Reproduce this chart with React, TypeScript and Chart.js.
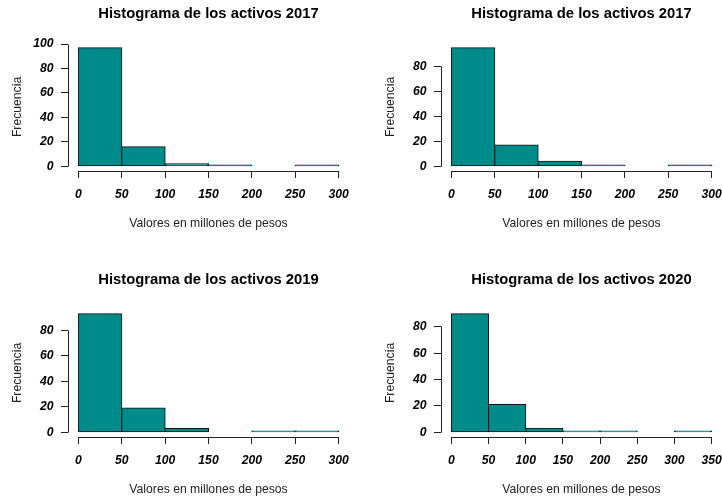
import React, { useEffect, useRef } from 'react';
import { Chart, registerables } from 'chart.js';

Chart.register(...registerables);

// ---- data ----
const titles = [
  'Histograma de los activos 2017',
  'Histograma de los activos 2017',
  'Histograma de los activos 2019',
  'Histograma de los activos 2020',
];
const breaksA = [0, 50, 100, 150, 200, 250, 300];
const breaksB = [0, 50, 100, 150, 200, 250, 300, 350];
const counts2017 = [97, 16, 2, 1, 0, 1];
const counts2018 = [95, 17, 4, 1, 0, 1];
const counts2019 = [93, 19, 3, 0, 1, 1];
const counts2020 = [90, 21, 3, 1, 1, 0, 1];
const yTicks100 = [0, 20, 40, 60, 80, 100];
const yTicks80 = [0, 20, 40, 60, 80];
const xLabel = 'Valores en millones de pesos';
const yLabel = 'Frecuencia';

// ---- style / layout ----
const FONT = "'Liberation Sans', Arial, Helvetica, sans-serif";
const FILL = '#008B8B';
const W = 58; // y axis box width
const H = 60; // x axis box height
const CW = 397;
const CH = 231;

const axisLines = {
  id: 'axisLines',
  afterDraw(chart: any) {
    const { ctx, chartArea } = chart;
    const x = chart.scales.x;
    const y = chart.scales.y;
    const al = (p: number) => Math.round(p - 0.5) + 0.5;
    const xt = x.ticks;
    const yt = y.ticks;
    ctx.save();
    ctx.strokeStyle = '#222';
    ctx.lineWidth = 1;
    ctx.beginPath();
    const yb = al(chartArea.bottom);
    ctx.moveTo(al(x.getPixelForValue(xt[0].value)), yb);
    ctx.lineTo(al(x.getPixelForValue(xt[xt.length - 1].value)), yb);
    const xl = al(chartArea.left);
    ctx.moveTo(xl, al(y.getPixelForValue(yt[0].value)));
    ctx.lineTo(xl, al(y.getPixelForValue(yt[yt.length - 1].value)));
    ctx.stroke();
    ctx.restore();
  },
};

type PanelProps = {
  title: string;
  breaks: number[];
  counts: number[];
  yTicks: number[];
  left: number;
  top: number;
};

function Panel({ title, breaks, counts, yTicks, left, top }: PanelProps) {
  const ref = useRef<HTMLCanvasElement | null>(null);
  useEffect(() => {
    if (!ref.current) return;
    const pts = counts.map((c, i) => ({ x: (breaks[i] + breaks[i + 1]) / 2, y: c }));
    const xMin = breaks[0];
    const xMax = breaks[breaks.length - 1];
    const xPad = 0.04 * (xMax - xMin);
    const yMax = Math.max(...counts);
    const tickFont = { family: FONT, size: 12.2, style: 'italic' as const, weight: 'bold' as const };
    const labelFont = { family: FONT, size: 12.2, weight: 'normal' as const };
    const grid = {
      display: true,
      drawOnChartArea: false,
      drawTicks: true,
      tickLength: 7,
      color: '#222',
      lineWidth: 1,
    };
    const chart = new Chart(ref.current, {
      type: 'bar',
      data: {
        datasets: [
          {
            data: pts as any,
            backgroundColor: FILL,
            borderColor: '#111',
            borderWidth: 1,
            borderSkipped: false,
            inflateAmount: 0.5,
            barPercentage: 1,
            categoryPercentage: 1,
            grouped: false,
          } as any,
        ],
      },
      options: {
        animation: false,
        responsive: false,
        maintainAspectRatio: false,
        devicePixelRatio: 1,
        events: [],
        layout: { padding: 0, autoPadding: false } as any,
        plugins: {
          legend: { display: false },
          tooltip: { enabled: false },
          title: {
            display: true,
            text: title,
            color: '#000',
            font: { family: FONT, size: 14.8, weight: 'bold' },
            padding: { top: 4.8, bottom: 20.4 },
          },
        },
        scales: {
          x: {
            type: 'linear',
            min: xMin - xPad,
            max: xMax + xPad,
            offset: false,
            bounds: 'data',
            afterBuildTicks: (s: any) => {
              s.ticks = breaks.map((v) => ({ value: v }));
            },
            afterFit: (s: any) => {
              s.height = H;
            },
            grid: { ...grid, offset: false },
            border: { display: false },
            ticks: {
              font: tickFont,
              color: '#000',
              padding: 9,
              maxRotation: 0,
              autoSkip: false,
              callback: (v: any) => String(v),
            },
            title: { display: true, text: xLabel, font: labelFont, color: '#222', padding: 0 },
          },
          y: {
            type: 'linear',
            position: 'left',
            min: -0.04 * yMax,
            max: 1.04 * yMax,
            bounds: 'data',
            afterBuildTicks: (s: any) => {
              s.ticks = yTicks.map((v) => ({ value: v }));
            },
            afterFit: (s: any) => {
              s.width = W;
            },
            grid,
            border: { display: false },
            ticks: {
              font: tickFont,
              color: '#000',
              padding: 7.5,
              autoSkip: false,
              callback: (v: any) => String(v),
            },
            title: { display: true, text: yLabel, font: labelFont, color: '#222', padding: 0 },
          },
          yr: {
            type: 'linear',
            position: 'right',
            display: true,
            afterFit: (s: any) => {
              s.width = W;
            },
            grid: { display: false },
            border: { display: false },
            ticks: { display: false },
          },
        } as any,
      },
      plugins: [axisLines],
    });
    return () => chart.destroy();
  }, [title, breaks, counts, yTicks]);
  return (
    <canvas
      ref={ref}
      width={CW}
      height={CH}
      style={{ position: 'absolute', left, top, width: CW, height: CH }}
    />
  );
}

export default function App() {
  return (
    <div
      style={{
        position: 'fixed',
        left: 0,
        top: 0,
        width: 722,
        height: 504,
        overflow: 'hidden',
        background: '#fff',
      }}
    >
      <Panel title={titles[0]} breaks={breaksA} counts={counts2017} yTicks={yTicks100} left={10} top={0} />
      <Panel title={titles[1]} breaks={breaksA} counts={counts2018} yTicks={yTicks80} left={383} top={0} />
      <Panel title={titles[2]} breaks={breaksA} counts={counts2019} yTicks={yTicks80} left={10} top={266} />
      <Panel title={titles[3]} breaks={breaksB} counts={counts2020} yTicks={yTicks80} left={383} top={266} />
    </div>
  );
}
